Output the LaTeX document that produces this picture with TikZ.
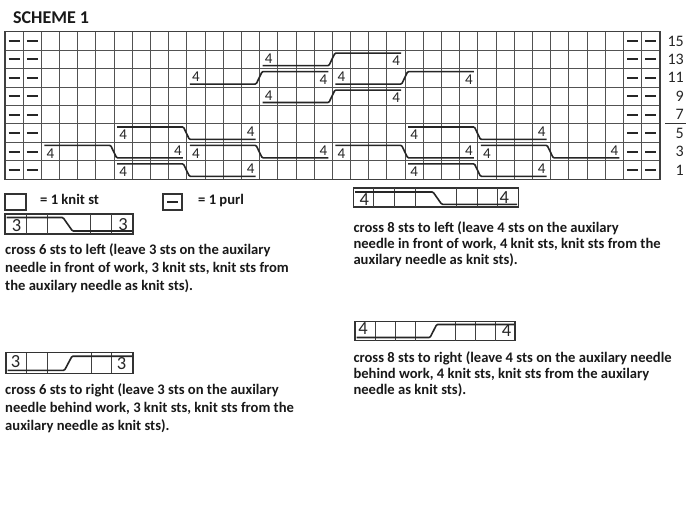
\documentclass[tikz,border=0pt]{standalone}
\usepackage{fontspec}
\setmainfont{Carlito}
\newcommand\cabL[2]{%
  \pgfmathsetmacro\cxa{5+(#1-1)*18.19}%
  \pgfmathsetmacro\cxm{\cxa+4*18.19}%
  \pgfmathsetmacro\cxb{\cxa+8*18.19}%
  \pgfmathsetmacro\cyt{31.7+(#2-1)*18.45}%
  \pgfmathsetmacro\cyb{\cyt+18.45}%
  \draw[cab] (\cxa+3,\cyt+3) -- (\cxm-3.5,\cyt+3) -- (\cxm+2.5,\cyb-3) -- (\cxb-4,\cyb-3);
  \node[num] (L#1-#2a) at (\cxa+9.1,\cyt+11) {4};
  \node[num] (L#1-#2b) at (\cxb-9.1,\cyt+8.2) {4};
}
\newcommand\cabR[2]{%
  \pgfmathsetmacro\cxa{5+(#1-1)*18.19}%
  \pgfmathsetmacro\cxm{\cxa+4*18.19}%
  \pgfmathsetmacro\cxb{\cxa+8*18.19}%
  \pgfmathsetmacro\cyt{31.7+(#2-1)*18.45}%
  \pgfmathsetmacro\cyb{\cyt+18.45}%
  \draw[cab] (\cxa+3,\cyb-3) -- (\cxm-3.5,\cyb-3) -- (\cxm+2.5,\cyt+3) -- (\cxb-4,\cyt+3);
  \node[num] (R#1-#2a) at (\cxa+9.1,\cyt+8.2) {4};
  \node[num] (R#1-#2b) at (\cxb-9.1,\cyt+11) {4};
}
\begin{document}
\begin{tikzpicture}[x=1pt,y=-1pt,
  gridl/.style={line width=1pt, draw=black!68},
  cab/.style={line width=1.6pt, draw=black!85, rounded corners=1pt},
  num/.style={font=\fontsize{15}{15}\selectfont, inner sep=0pt, text=black!85},
  lnum/.style={font=\fontsize{18.5}{18.5}\selectfont, inner sep=0pt, text=black!85},
  purl/.style={line width=2pt, draw=black!85},
  lbox/.style={line width=1.4pt, draw=black!80},
  lcell/.style={line width=1pt, draw=black!75},
  desc/.style={font=\bfseries\fontsize{14.6}{17}\selectfont, anchor=base west, inner sep=0pt, text=black!90},
  rlab/.style={font=\fontsize{16}{16}\selectfont, anchor=east, inner sep=0pt, text=black!85},
]
\useasboundingbox (0,0) rectangle (690,506);
\fill[white] (0,0) rectangle (690,506);

% title
\node[anchor=west, inner sep=0pt, font=\bfseries\fontsize{18}{18}\selectfont, text=black!90] (title) at (13,18) {SCHEME 1};

% grid
\foreach \i in {0,...,36} \draw[gridl] ({5+\i*18.19},31.7) -- ({5+\i*18.19},179.3);
\foreach \j in {0,...,8} \draw[gridl] (5,{31.7+\j*18.45}) -- (659.84,{31.7+\j*18.45});
\draw[line width=1.3pt, draw=black!75] (5,31.7) rectangle (659.84,179.3);

% purls
\foreach \c in {1,2,35,36} {
  \foreach \r in {1,...,8} {
    \draw[purl] ({5+(\c-0.5)*18.19-5.5},{31.7+(\r-0.5)*18.45}) -- ({5+(\c-0.5)*18.19+5.5},{31.7+(\r-0.5)*18.45});
  }
}

% cables
\cabR{15}{2}
\cabR{11}{3}
\cabR{19}{3}
\cabR{15}{4}
\cabL{7}{6}
\cabL{23}{6}
\cabL{3}{7}
\cabL{11}{7}
\cabL{19}{7}
\cabL{27}{7}
\cabL{7}{8}
\cabL{23}{8}

% row labels
\node[rlab] (n15) at (684,{31.7+0.5*18.45}) {15};
\node[rlab] (n13) at (684,{31.7+1.5*18.45}) {13};
\node[rlab] (n11) at (684,{31.7+2.5*18.45}) {11};
\node[rlab] (n9) at (684,{31.7+3.5*18.45}) {9};
\node[rlab] (n7) at (684,{31.7+4.5*18.45}) {7};
\node[rlab] (n5) at (684,{31.7+5.5*18.45}) {5};
\node[rlab] (n3) at (684,{31.7+6.5*18.45}) {3};
\node[rlab] (n1) at (684,{31.7+7.5*18.45}) {1};
\draw[line width=1.2pt, draw=black!80] (665,123.2) -- (686,123.2);

% legend: knit and purl
\draw[lbox] (5,194) rectangle (26,210);
\node[desc] (knit) at (40,204.6) {= 1 knit st};
\draw[lbox] (163,194) rectangle (182,210);
\draw[purl] (167,201.5) -- (177.5,201.5);
\node[desc] (purltxt) at (198,204.6) {= 1 purl};

% legend: cross 6 left
\draw[lbox] (5,214) rectangle (133,234);
\foreach \x in {26.33,47.67,90.33,111.67} \draw[lcell] (\x,214) -- (\x,234);
\draw[cab] (6.5,217.5) -- (63,217.5) -- (72.5,231) -- (132,231);
\node[lnum] (s6la) at (16.5,225.5) {3};
\node[lnum] (s6lb) at (123,224.2) {3};
\node[desc] (t6l1) at (5,254) {cross 6 sts to left (leave 3 sts on the auxilary};
\node[desc] (t6l2) at (5,272) {needle in front of work, 3 knit sts, knit sts from};
\node[desc] (t6l3) at (5,290) {the auxilary needle as knit sts).};

% legend: cross 6 right
\draw[lbox] (6,352.7) rectangle (133,373.3);
\foreach \x in {26.7,47.2,91.3,111.8} \draw[lcell] (\x,352.7) -- (\x,373.3);
\draw[cab] (7.5,370.3) -- (64.5,370.3) -- (72,356.2) -- (132,356.2);
\node[lnum] (s6ra) at (15.5,361.8) {3};
\node[lnum] (s6rb) at (121.5,364) {3};
\node[desc] (t6r1) at (5,394) {cross 6 sts to right (leave 3 sts on the auxilary};
\node[desc] (t6r2) at (5,412) {needle behind work, 3 knit sts, knit sts from the};
\node[desc] (t6r3) at (5,430) {auxilary needle as knit sts).};

% legend: cross 8 left
\draw[lbox] (353.3,188) rectangle (518.3,207);
\foreach \k in {1,2,3,5,6,7} \draw[lcell] ({353.3+\k*20.625},188) -- ({353.3+\k*20.625},207);
\draw[cab] (355,192) -- (433,192) -- (441.7,204.3) -- (517,204.3);
\node[lnum] (s8la) at (364.2,199.3) {4};
\node[lnum] (s8lb) at (504.2,197.3) {4};
\node[desc] (t8l1) at (353.3,232.5) {cross 8 sts to left (leave 4 sts on the auxilary};
\node[desc] (t8l2) at (353.3,248.5) {needle in front of work, 4 knit sts, knit sts from the};
\node[desc] (t8l3) at (353.3,264.5) {auxilary needle as knit sts).};

% legend: cross 8 right
\draw[lbox] (355,321.7) rectangle (515,340.7);
\foreach \k in {1,2,3,5,6,7} \draw[lcell] ({355+\k*20},321.7) -- ({355+\k*20},340.7);
\draw[cab] (356.5,337.5) -- (430,337.5) -- (436.7,324.5) -- (514,324.5);
\node[lnum] (s8ra) at (363,328.7) {4};
\node[lnum] (s8rb) at (506.5,331) {4};
\node[desc] (t8r1) at (353.3,362.5) {cross 8 sts to right (leave 4 sts on the auxilary needle};
\node[desc] (t8r2) at (353.3,378.5) {behind work, 4 knit sts, knit sts from the auxilary};
\node[desc] (t8r3) at (353.3,394.5) {needle as knit sts).};
\end{tikzpicture}
\end{document}
